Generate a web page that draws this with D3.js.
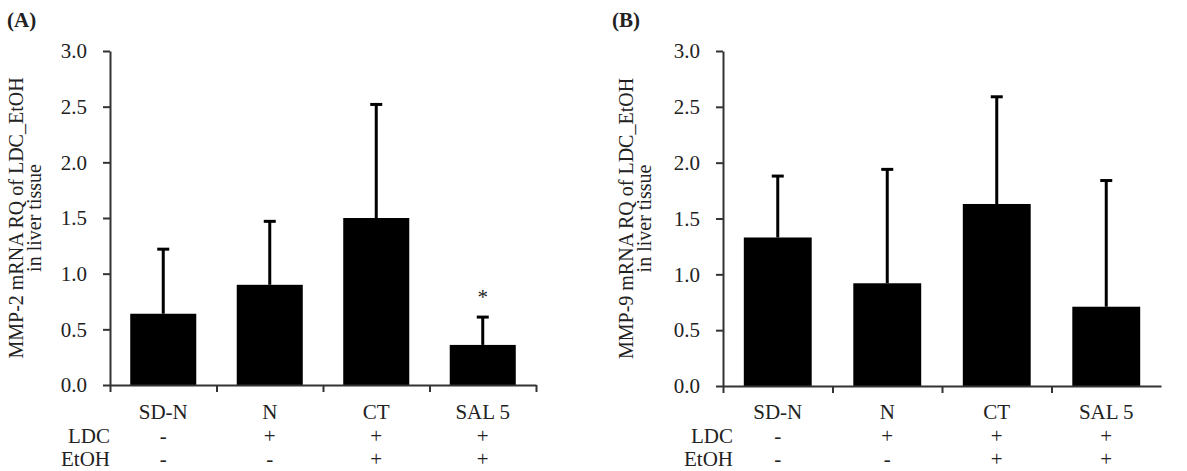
<!DOCTYPE html>
<html>
<head>
<meta charset="utf-8">
<script src="https://cdn.jsdelivr.net/npm/d3@7"></script>
<style>
  body { margin: 0; background: #fff; }
  text { font-family: "Liberation Serif", "Times New Roman", serif; fill: #222; }
</style>
</head>
<body>
<svg id="chart" width="1187" height="471"></svg>
<script>
// groups and treatment rows
const groups = ["SD-N", "N", "CT", "SAL 5"];
const ldcRow = ["-", "+", "+", "+"];
const etohRow = ["-", "-", "+", "+"];
const yTicks = [0, 0.5, 1.0, 1.5, 2.0, 2.5, 3.0];

// panel A: MMP-2
const mmp2Mean = [0.64, 0.90, 1.50, 0.36];
const mmp2Err = [0.58, 0.57, 1.02, 0.25];
const mmp2Sig = ["", "", "", "*"];

// panel B: MMP-9
const mmp9Mean = [1.33, 0.92, 1.63, 0.71];
const mmp9Err = [0.55, 1.02, 0.96, 1.13];
const mmp9Sig = ["", "", "", ""];

const svg = d3.select("svg#chart");

//draws one bar panel
function drawPanel(opt) {
  const g = svg.append("g");
  const x = d3.scaleBand().domain(groups).range([opt.x0, opt.x1])
    .paddingInner(0.38).paddingOuter(0.19);
  const y = d3.scaleLinear().domain([0, 3]).range([opt.yBottom, opt.yTop]);
  const edges = d3.scaleLinear().domain([0, groups.length]).range([opt.x0, opt.x1]);

  // bars
  g.selectAll("rect.bar").data(groups).join("rect")
    .attr("class", "bar")
    .attr("x", d => x(d))
    .attr("width", x.bandwidth())
    .attr("y", (d, i) => y(opt.mean[i]))
    .attr("height", (d, i) => y(0) - y(opt.mean[i]))
    .attr("fill", "#000");

  // error bars (upper only)
  const cx = d => x(d) + x.bandwidth() / 2;
  g.selectAll("line.err").data(groups).join("line")
    .attr("class", "err")
    .attr("x1", cx).attr("x2", cx)
    .attr("y1", (d, i) => y(opt.mean[i]))
    .attr("y2", (d, i) => y(opt.mean[i] + opt.err[i]))
    .attr("stroke", "#000").attr("stroke-width", 3);
  g.selectAll("line.cap").data(groups).join("line")
    .attr("class", "cap")
    .attr("x1", d => cx(d) - 6).attr("x2", d => cx(d) + 6)
    .attr("y1", (d, i) => y(opt.mean[i] + opt.err[i]))
    .attr("y2", (d, i) => y(opt.mean[i] + opt.err[i]))
    .attr("stroke", "#000").attr("stroke-width", 3);

  // significance marks
  g.selectAll("text.sig").data(groups).join("text")
    .attr("class", "sig")
    .attr("x", cx)
    .attr("y", (d, i) => y(opt.mean[i] + opt.err[i]) - 13)
    .attr("text-anchor", "middle")
    .style("font-size", "21px")
    .text((d, i) => opt.sig[i]);

  // y axis
  const yAxis = g.append("g").attr("transform", "translate(" + opt.x0 + ",0)")
    .call(d3.axisLeft(y).tickValues(yTicks).tickFormat(d3.format(".1f"))
      .tickSize(7).tickSizeOuter(0).tickPadding(16));
  yAxis.selectAll("path, line").attr("stroke", "#333").attr("stroke-width", 2);
  yAxis.selectAll("text").style("font-size", "21px").style("font-family", "Liberation Serif, serif").attr("fill", "#222");

  // x axis with ticks on group edges
  const xAxis = g.append("g").attr("transform", "translate(0," + y(0) + ")")
    .call(d3.axisBottom(edges).tickValues(d3.range(opt.tickCount)).tickFormat("")
      .tickSize(7).tickSizeOuter(0));
  xAxis.selectAll("path, line").attr("stroke", "#333").attr("stroke-width", 2);

  // category labels and treatment rows
  g.selectAll("text.cat").data(groups).join("text")
    .attr("class", "cat").attr("x", cx).attr("y", 419)
    .attr("text-anchor", "middle").style("font-size", "21px").text(d => d);
  g.selectAll("text.ldc").data(groups).join("text")
    .attr("class", "ldc").attr("x", cx).attr("y", 443)
    .attr("text-anchor", "middle").style("font-size", "21px").text((d, i) => ldcRow[i]);
  g.selectAll("text.etoh").data(groups).join("text")
    .attr("class", "etoh").attr("x", cx).attr("y", 466)
    .attr("text-anchor", "middle").style("font-size", "21px").text((d, i) => etohRow[i]);
  g.append("text").attr("x", opt.rowX).attr("y", 443).attr("text-anchor", "end")
    .style("font-size", "21px").text("LDC");
  g.append("text").attr("x", opt.rowX).attr("y", 466).attr("text-anchor", "end")
    .style("font-size", "21px").text("EtOH");

  // y axis title, two lines
  const midY = (opt.yTop + opt.yBottom) / 2;
  g.append("text")
    .attr("transform", "translate(" + opt.titleX1 + "," + midY + ") rotate(-90)")
    .attr("text-anchor", "middle").style("font-size", "20px").text(opt.title);
  g.append("text")
    .attr("transform", "translate(" + opt.titleX2 + "," + midY + ") rotate(-90)")
    .attr("text-anchor", "middle").style("font-size", "20px").text("in liver tissue");

  // panel letter
  g.append("text").attr("x", opt.letterX).attr("y", 27)
    .style("font-size", "21px").style("font-weight", "bold").text(opt.letter);
}

drawPanel({
  x0: 110, x1: 536, yBottom: 385, yTop: 51, tickCount: 5,
  mean: mmp2Mean, err: mmp2Err, sig: mmp2Sig,
  rowX: 110, titleX1: 23, titleX2: 41, letterX: 7, letter: "(A)",
  title: "MMP-2 mRNA RQ of LDC_EtOH"
});

drawPanel({
  x0: 723, x1: 1161, yBottom: 386, yTop: 51, tickCount: 4,
  mean: mmp9Mean, err: mmp9Err, sig: mmp9Sig,
  rowX: 733, titleX1: 633, titleX2: 651, letterX: 612, letter: "(B)",
  title: "MMP-9 mRNA RQ of LDC_EtOH"
});
</script>
</body>
</html>
